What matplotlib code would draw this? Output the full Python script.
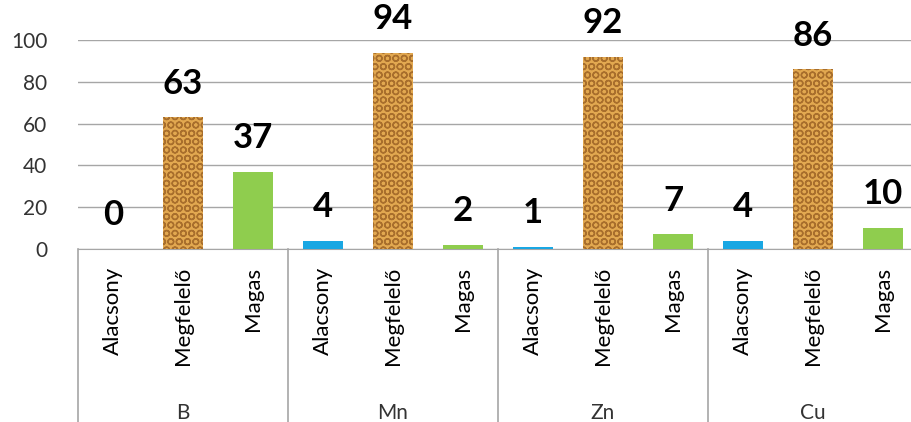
import matplotlib.pyplot as plt
import numpy as np

# Adatok
elements = ['B', 'Mn', 'Zn', 'Cu']
levels = ['Alacsony', 'Megfelelő', 'Magas']
values = [0, 63, 37,
          4, 94, 2,
          1, 92, 7,
          4, 86, 10]

plt.rcParams['font.family'] = ['Lato', 'DejaVu Sans']
plt.rcParams['hatch.linewidth'] = 1.0

fig = plt.figure(figsize=(9.12, 4.22), dpi=100)
ax = fig.add_axes([78/912, 173/422, 840/912, 209/422])

n = len(values)
x = np.arange(n)
grid_col = '#a6a6a6'

colors = ['#1aa7e3', '#dca24c', '#8fcd4e']
for i, v in enumerate(values):
    lvl = i % 3
    if lvl == 1:
        # szemcsés textúra
        ax.bar(x[i], v, width=0.57, color='#e2a850', edgecolor='#a86e2c',
               hatch='OO', linewidth=0, zorder=3)
    else:
        ax.bar(x[i], v, width=0.57, color=colors[lvl], zorder=3)
    ax.annotate(str(v), (x[i], v), xytext=(0, 17), textcoords='offset points',
                ha='center', va='baseline', fontsize=25, fontweight='bold',
                annotation_clip=False, clip_on=False)

ax.set_xlim(-0.5, n - 0.5)
ax.set_ylim(0, 100)
ax.set_yticks(range(0, 101, 20))
ax.yaxis.grid(True, color=grid_col, lw=1)
ax.set_axisbelow(True)
for s in ['top', 'right', 'left']:
    ax.spines[s].set_visible(False)
ax.spines['bottom'].set_color(grid_col)

ax.set_xticks(x)
ax.set_xticklabels(levels * len(elements), rotation=90, fontsize=16)
ax.tick_params(axis='x', length=0, pad=13)
ax.tick_params(axis='y', length=0, pad=22, labelsize=15, labelcolor='#333333')

# Csoportok elválasztó vonalai és nevei
tr = ax.get_xaxis_transform()
for g, name in enumerate(elements):
    xl = g * 3 - 0.5
    ax.plot([xl, xl], [0, -0.9], color=grid_col, lw=1.2, transform=tr, clip_on=False)
    ax.text(g * 3 + 1, -0.785, name, transform=tr, ha='center', va='center',
            fontsize=15, color='#333333')

fig.savefig('out.png', dpi=100)
